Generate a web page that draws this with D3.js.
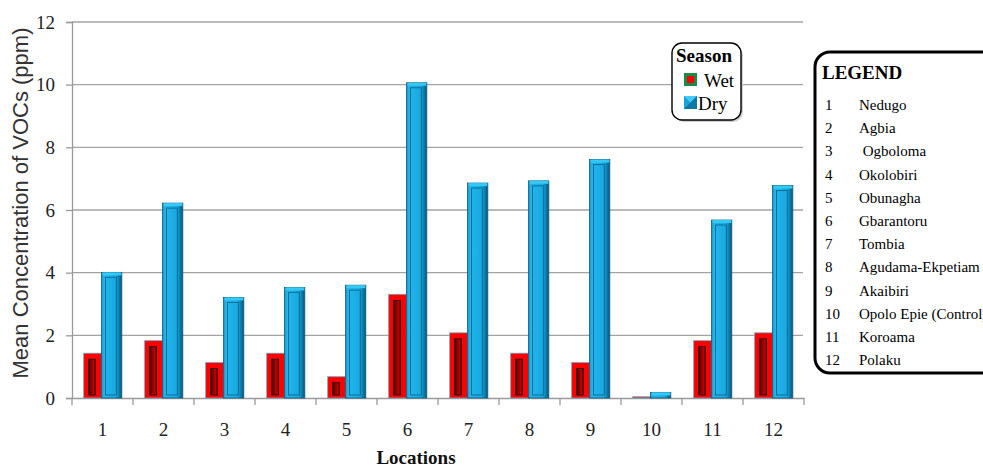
<!DOCTYPE html>
<html>
<head>
<meta charset="utf-8">
<script src="https://cdn.jsdelivr.net/npm/d3@7"></script>
<style>
  html, body { margin: 0; padding: 0; background: #fff; }
  svg { display: block; }
</style>
</head>
<body>
<svg id="chart" width="983" height="467"></svg>
<script>
// ---- data ----
const locations = ["1","2","3","4","5","6","7","8","9","10","11","12"];
const seasons = ["Wet","Dry"];
const wetValues = [1.43, 1.83, 1.13, 1.43, 0.68, 3.31, 2.08, 1.43, 1.13, 0.04, 1.83, 2.08];
const dryValues = [4.01, 6.22, 3.21, 3.53, 3.60, 10.06, 6.86, 6.93, 7.61, 0.18, 5.68, 6.78];
const yTicks = [0, 2, 4, 6, 8, 10, 12];
const locationNames = ["Nedugo","Agbia"," Ogboloma","Okolobiri","Obunagha","Gbarantoru","Tombia","Agudama-Ekpetiam","Akaibiri","Opolo Epie (Control)","Koroama","Polaku"];

const rows = locations.map((c, i) => ({ loc: c, Wet: wetValues[i], Dry: dryValues[i] }));

const svg = d3.select("#chart");
const serif = "'Liberation Serif', 'Times New Roman', serif";
const sans = "'Liberation Sans', Arial, sans-serif";

const pL = 72, pR = 804, pT = 22, pB = 398;
const x0 = d3.scaleBand().domain(locations).range([pL, pR]).padding(0);
const x1 = d3.scaleBand().domain(seasons).range([0, x0.bandwidth()]).paddingInner(0).paddingOuter(0.62);
const y = d3.scaleLinear().domain([0, 12]).range([pB, pT]);

// gradients
const defs = svg.append("defs");
const gRed = defs.append("linearGradient").attr("id", "gRedIn").attr("x1", "0").attr("x2", "1");
gRed.append("stop").attr("offset", "0").attr("stop-color", "#1a0000");
gRed.append("stop").attr("offset", "0.25").attr("stop-color", "#7a0000");
gRed.append("stop").attr("offset", "0.75").attr("stop-color", "#c00000");
gRed.append("stop").attr("offset", "1").attr("stop-color", "#3a0000");
const gBlue = defs.append("linearGradient").attr("id", "gBlue").attr("x1", "0").attr("x2", "1");
gBlue.append("stop").attr("offset", "0").attr("stop-color", "#1a8fbf");
gBlue.append("stop").attr("offset", "0.12").attr("stop-color", "#22b6ec");
gBlue.append("stop").attr("offset", "0.7").attr("stop-color", "#18a8e0");
gBlue.append("stop").attr("offset", "0.85").attr("stop-color", "#0f7fae");
gBlue.append("stop").attr("offset", "1").attr("stop-color", "#0a5578");

// gridlines
svg.append("g").selectAll("line").data(yTicks.filter(d => d > 0)).join("line")
  .attr("x1", pL).attr("x2", 803)
  .attr("y1", d => y(d)).attr("y2", d => y(d))
  .attr("stroke", "#a3a3a3").attr("stroke-width", 1.3);

// y axis
const yAxis = svg.append("g").attr("transform", `translate(${pL},0)`)
  .call(d3.axisLeft(y).tickValues(yTicks).tickSize(6).tickPadding(11));
yAxis.select(".domain").attr("stroke", "#9a9a9a").attr("stroke-width", 1.3);
yAxis.selectAll(".tick line").attr("stroke", "#9a9a9a").attr("stroke-width", 1.3);
yAxis.selectAll(".tick text").attr("font-family", serif).attr("font-size", 19).attr("fill", "#222");

// x axis
const xAxis = svg.append("g").attr("transform", `translate(0,${pB})`)
  .call(d3.axisBottom(x0).tickSize(0).tickPadding(25));
xAxis.select(".domain").attr("stroke", "#9a9a9a").attr("stroke-width", 1.3);
xAxis.selectAll(".tick text").attr("font-family", serif).attr("font-size", 19).attr("fill", "#222");
// boundary tick marks
svg.append("g").selectAll("line").data(locations.slice(1)).join("line")
  .attr("x1", d => x0(d)).attr("x2", d => x0(d))
  .attr("y1", pB).attr("y2", pB + 7)
  .attr("stroke", "#9a9a9a").attr("stroke-width", 1.3);
svg.append("line").attr("x1", pL).attr("x2", pL).attr("y1", pB).attr("y2", pB + 7)
  .attr("stroke", "#9a9a9a").attr("stroke-width", 1.3);
svg.append("line").attr("x1", pR).attr("x2", pR).attr("y1", pB).attr("y2", pB + 7)
  .attr("stroke", "#9a9a9a").attr("stroke-width", 1.3);

// bars
const groups = svg.append("g").selectAll("g").data(rows).join("g")
  .attr("transform", d => `translate(${x0(d.loc)},0)`);

groups.each(function(d) {
  const g = d3.select(this);
  const bw = x1.bandwidth();
  // wet
  {
    const xx = x1("Wet"), yy = y(d.Wet), h = pB - yy;
    g.append("rect").attr("x", xx).attr("y", yy).attr("width", bw - 1).attr("height", h)
      .attr("fill", "#ff0000").attr("stroke", "#6aa8c0").attr("stroke-width", 0.8);
    if (h > 12) {
      g.append("rect").attr("x", xx + 5).attr("y", yy + 6).attr("width", Math.max(bw - 12, 2)).attr("height", h - 9)
        .attr("fill", "url(#gRedIn)").attr("stroke", "#200000").attr("stroke-width", 0.8);
    }
  }
  // dry
  {
    const xx = x1("Dry"), yy = y(d.Dry), h = pB - yy;
    g.append("rect").attr("x", xx - 1).attr("y", yy).attr("width", bw + 1.5).attr("height", h)
      .attr("fill", "url(#gBlue)").attr("stroke", "#0e5d80").attr("stroke-width", 0.8);
    g.append("rect").attr("x", xx).attr("y", yy).attr("width", bw).attr("height", Math.min(3, h))
      .attr("fill", "#35c9f6");
    if (h > 10) {
      g.append("rect").attr("x", xx + 3).attr("y", yy + 5).attr("width", bw - 8).attr("height", h - 8)
        .attr("fill", "none").attr("stroke", "#0c6f99").attr("stroke-width", 1);
    }
  }
});

// axis titles
svg.append("text").attr("transform", "translate(28,203) rotate(-90)")
  .attr("text-anchor", "middle").attr("font-family", sans).attr("font-size", 22).attr("fill", "#333")
  .text("Mean Concentration of VOCs (ppm)");
svg.append("text").attr("x", 416).attr("y", 464).attr("text-anchor", "middle")
  .attr("font-family", serif).attr("font-weight", "bold").attr("font-size", 19).attr("fill", "#111")
  .text("Locations");

// season legend
const sl = svg.append("g");
sl.append("rect").attr("x", 674).attr("y", 45).attr("width", 69).attr("height", 77).attr("rx", 10)
  .attr("fill", "#cfcfcf");
sl.append("rect").attr("x", 672).attr("y", 43).attr("width", 69).attr("height", 77).attr("rx", 10)
  .attr("fill", "#fff").attr("stroke", "#000").attr("stroke-width", 1.4);
sl.append("text").attr("x", 676).attr("y", 62).attr("font-family", serif).attr("font-weight", "bold")
  .attr("font-size", 19).attr("fill", "#000").text("Season");
sl.append("rect").attr("x", 684).attr("y", 73).attr("width", 13).attr("height", 13).attr("fill", "#1c8a4a");
sl.append("rect").attr("x", 687).attr("y", 76).attr("width", 7).attr("height", 7).attr("fill", "#ff0000");
sl.append("text").attr("x", 704).attr("y", 87).attr("font-family", serif).attr("font-size", 19).attr("fill", "#000").text("Wet");
sl.append("rect").attr("x", 684).attr("y", 96).attr("width", 13).attr("height", 13).attr("fill", "#1aa3d8");
sl.append("path").attr("d", "M684,96 L697,96 L690.5,102.5 Z").attr("fill", "#45cdf8");
sl.append("path").attr("d", "M697,96 L697,109 L684,109 Z").attr("fill", "#0f79a6");
sl.append("text").attr("x", 698).attr("y", 110).attr("font-family", serif).attr("font-size", 19).attr("fill", "#000").text("Dry");

// location legend
const ll = svg.append("g");
ll.append("rect").attr("x", 815).attr("y", 52).attr("width", 200).attr("height", 321).attr("rx", 15)
  .attr("fill", "#fff").attr("stroke", "#000").attr("stroke-width", 3);
ll.append("text").attr("x", 822).attr("y", 79).attr("font-family", serif).attr("font-weight", "bold")
  .attr("font-size", 19).attr("fill", "#000").text("LEGEND");
ll.selectAll("text.num").data(locations).join("text").attr("class", "num")
  .attr("x", 825).attr("y", (d, i) => 110 + i * 23.2)
  .attr("font-family", serif).attr("font-size", 15).attr("fill", "#000").text(d => d);
ll.selectAll("text.nm").data(locationNames).join("text").attr("class", "nm")
  .attr("x", 859).attr("y", (d, i) => 110 + i * 23.2)
  .attr("font-family", serif).attr("font-size", 15).attr("fill", "#000")
  .style("white-space", "pre").text(d => d);
</script>
</body>
</html>
